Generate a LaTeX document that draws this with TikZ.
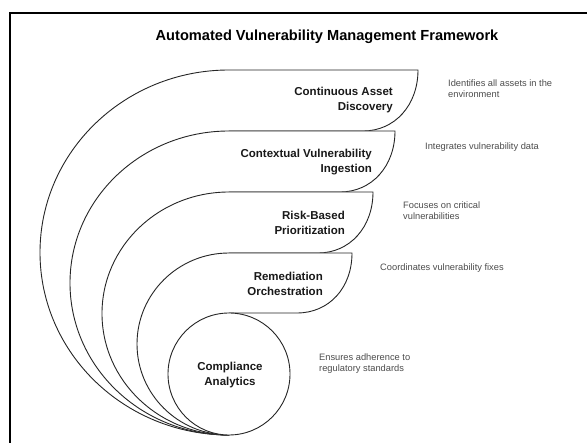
\documentclass[tikz,border=0pt]{standalone}
\usepackage{fontspec}
\setmainfont{Liberation Sans}
\begin{document}
\begin{tikzpicture}[x=1pt,y=-1pt,
  band/.style={draw=black!85, line width=0.9pt, fill=white, line join=round},
  stage/.style={font=\bfseries\fontsize{11.5}{15}\selectfont, align=right, anchor=east, inner sep=0pt, text=black!90},
  note/.style={font=\fontsize{9.3}{11}\selectfont, align=left, anchor=west, inner sep=0pt, text=black!70}]
\useasboundingbox (0,0) rectangle (587,443);
% outer frame, running past the right and bottom edges
\begin{scope}
  \clip (0,0) rectangle (587,443);
  \draw[line width=1.6pt] (10,13) rectangle (600,460);
\end{scope}

\node[font=\bfseries\fontsize{14.6}{17}\selectfont, inner sep=0pt] (title) at (327,37) {Automated Vulnerability Management Framework};

% nested bands, outermost first, all meeting at the bottom point
\draw[band] (229,435) arc[start angle=270, end angle=90, x radius=189pt, y radius=182.5pt]
  -- (418,70) .. controls (418,105) and (395,131) .. (363,131) -- (229,131) -- cycle;
\draw[band] (229,435) arc[start angle=270, end angle=90, x radius=159pt, y radius=152pt]
  -- (395,131) .. controls (395,166) and (372,192) .. (340,192) -- (229,192) -- cycle;
\draw[band] (229,435) arc[start angle=270, end angle=90, x radius=127pt, y radius=121.5pt]
  -- (373,192) .. controls (373,227) and (350,253) .. (318,253) -- (229,253) -- cycle;
\draw[band] (229,435) arc[start angle=270, end angle=90, x radius=92pt, y radius=91pt]
  -- (352,253) .. controls (352,288) and (329,313) .. (297,313) -- (229,313) -- cycle;
\draw[band] (229,374) circle[radius=61pt];

% stage labels
\node[stage] (s1) at (393,100.5) {Continuous Asset\\Discovery};
\node[stage] (s2) at (372,162) {Contextual Vulnerability\\Ingestion};
\node[stage] (s3) at (345,222.5) {Risk-Based\\Prioritization};
\node[stage] (s4) at (323,284) {Remediation\\Orchestration};
\node[stage, anchor=center, align=center] (s5) at (230,375.5) {Compliance\\Analytics};

% descriptions
\node[note] (d1) at (448,88.5) {Identifies all assets in the\\environment};
\node[note] (d2) at (425,147) {Integrates vulnerability data};
\node[note] (d3) at (403,211) {Focuses on critical\\vulnerabilities};
\node[note] (d4) at (380,268.5) {Coordinates vulnerability fixes};
\node[note] (d5) at (319,364) {Ensures adherence to\\regulatory standards};
\end{tikzpicture}
\end{document}
